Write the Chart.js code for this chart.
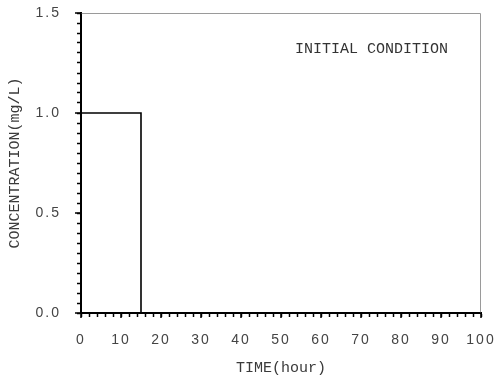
<!DOCTYPE html>
<html>
<head>
<meta charset="utf-8">
<script src="https://cdn.jsdelivr.net/npm/chart.js@4/dist/chart.umd.min.js"></script>
<style>
  html, body { margin: 0; padding: 0; background: #fff; }
  #wrap { width: 496px; height: 380px; }
</style>
</head>
<body>
<div id="wrap"><canvas id="c"></canvas></div>
<script>
// Step input: concentration held at 1.0 mg/L for the first 15 hours, then zero
const timeHours = [0, 15, 15, 100];
const concentration = [1.0, 1.0, 0.0, 0.0];

const xMajorStep = 10, xMinorStep = 2;
const yMajorStep = 0.5, yMinorStep = 0.05;
const xRange = [0, 100];
const yRange = [0, 1.5];

const noteText = 'INITIAL CONDITION';
const xTitle = 'TIME(hour)';
const yTitle = 'CONCENTRATION(mg/L)';

const mono = '"Liberation Mono", "DejaVu Sans Mono", monospace';
const sans = '"Liberation Sans", Arial, sans-serif';

const isMajor = (v, step) => Math.abs(v / step - Math.round(v / step)) < 1e-6;

// Tick labels are drawn after the datasets (ticks.z = 1) with a little tracking
const tickTracking = {
  id: 'tickTracking',
  afterDatasetsDraw(chart) { chart.ctx.letterSpacing = '2px'; },
  afterDraw(chart) { chart.ctx.letterSpacing = '0px'; }
};

// Gray frame on the top and right, longer major ticks, and the note
const decorations = {
  id: 'decorations',
  afterDraw(chart) {
    const { ctx, chartArea: a, scales: { x, y } } = chart;
    ctx.save();
    ctx.letterSpacing = '0px';
    ctx.strokeStyle = '#9a9a9a';
    ctx.lineWidth = 1;
    ctx.beginPath();
    ctx.moveTo(a.left, a.top + 0.5);
    ctx.lineTo(a.right - 0.5, a.top + 0.5);
    ctx.lineTo(a.right - 0.5, a.bottom);
    ctx.stroke();

    ctx.strokeStyle = '#000';
    ctx.lineWidth = 1.5;
    ctx.beginPath();
    y.ticks.forEach(t => {
      if (isMajor(t.value, yMajorStep)) {
        const py = Math.round(y.getPixelForValue(t.value));
        ctx.moveTo(a.left - 6, py);
        ctx.lineTo(a.left + 1, py);
      }
    });
    x.ticks.forEach(t => {
      if (isMajor(t.value, xMajorStep)) {
        const px = Math.round(x.getPixelForValue(t.value));
        ctx.moveTo(px, a.bottom - 1);
        ctx.lineTo(px, a.bottom + 5);
      }
    });
    ctx.stroke();

    ctx.fillStyle = '#333';
    ctx.font = '15px ' + mono;
    ctx.textAlign = 'left';
    ctx.textBaseline = 'middle';
    ctx.fillText(noteText, x.getPixelForValue(53.5), y.getPixelForValue(1.32));
    ctx.restore();
  }
};

new Chart(document.getElementById('c'), {
  type: 'line',
  data: {
    datasets: [{
      data: timeHours.map((t, i) => ({ x: t, y: concentration[i] })),
      borderColor: '#000',
      borderWidth: 1.6,
      pointRadius: 0,
      fill: false,
      tension: 0
    }]
  },
  options: {
    responsive: true,
    maintainAspectRatio: false,
    animation: false,
    layout: { padding: { left: 0, right: 15, top: 13, bottom: 0 } },
    plugins: { legend: { display: false }, tooltip: { enabled: false } },
    scales: {
      x: {
        type: 'linear',
        min: xRange[0], max: xRange[1],
        afterFit(s) { s.height = 67; s.paddingLeft = 0; s.paddingRight = 0; },
        border: { color: '#000', width: 2 },
        grid: { drawOnChartArea: false, tickLength: 4, tickColor: '#000', tickWidth: 1.5 },
        ticks: {
          z: 1,
          stepSize: xMinorStep, autoSkip: false, maxRotation: 0, maxTicksLimit: 1000,
          padding: 15, color: '#444', font: { family: sans, size: 14 },
          callback: v => isMajor(v, xMajorStep) ? String(Math.round(v)) : ''
        },
        title: { display: true, text: xTitle, color: '#3a3a3a', font: { family: mono, size: 15 }, padding: 3 }
      },
      y: {
        type: 'linear',
        min: yRange[0], max: yRange[1],
        afterFit(s) { s.width = 81; s.paddingTop = 0; s.paddingBottom = 0; },
        border: { color: '#000', width: 2 },
        grid: { drawOnChartArea: false, tickLength: 4, tickColor: '#000', tickWidth: 1.5 },
        ticks: {
          z: 1,
          stepSize: yMinorStep, autoSkip: false, maxTicksLimit: 1000,
          padding: 16, color: '#444', font: { family: sans, size: 14 },
          callback: v => isMajor(v, yMajorStep) ? v.toFixed(1) : ''
        },
        title: { display: true, text: yTitle, color: '#3a3a3a', font: { family: mono, size: 15 }, padding: 6 }
      }
    }
  },
  plugins: [tickTracking, decorations]
});
</script>
</body>
</html>
